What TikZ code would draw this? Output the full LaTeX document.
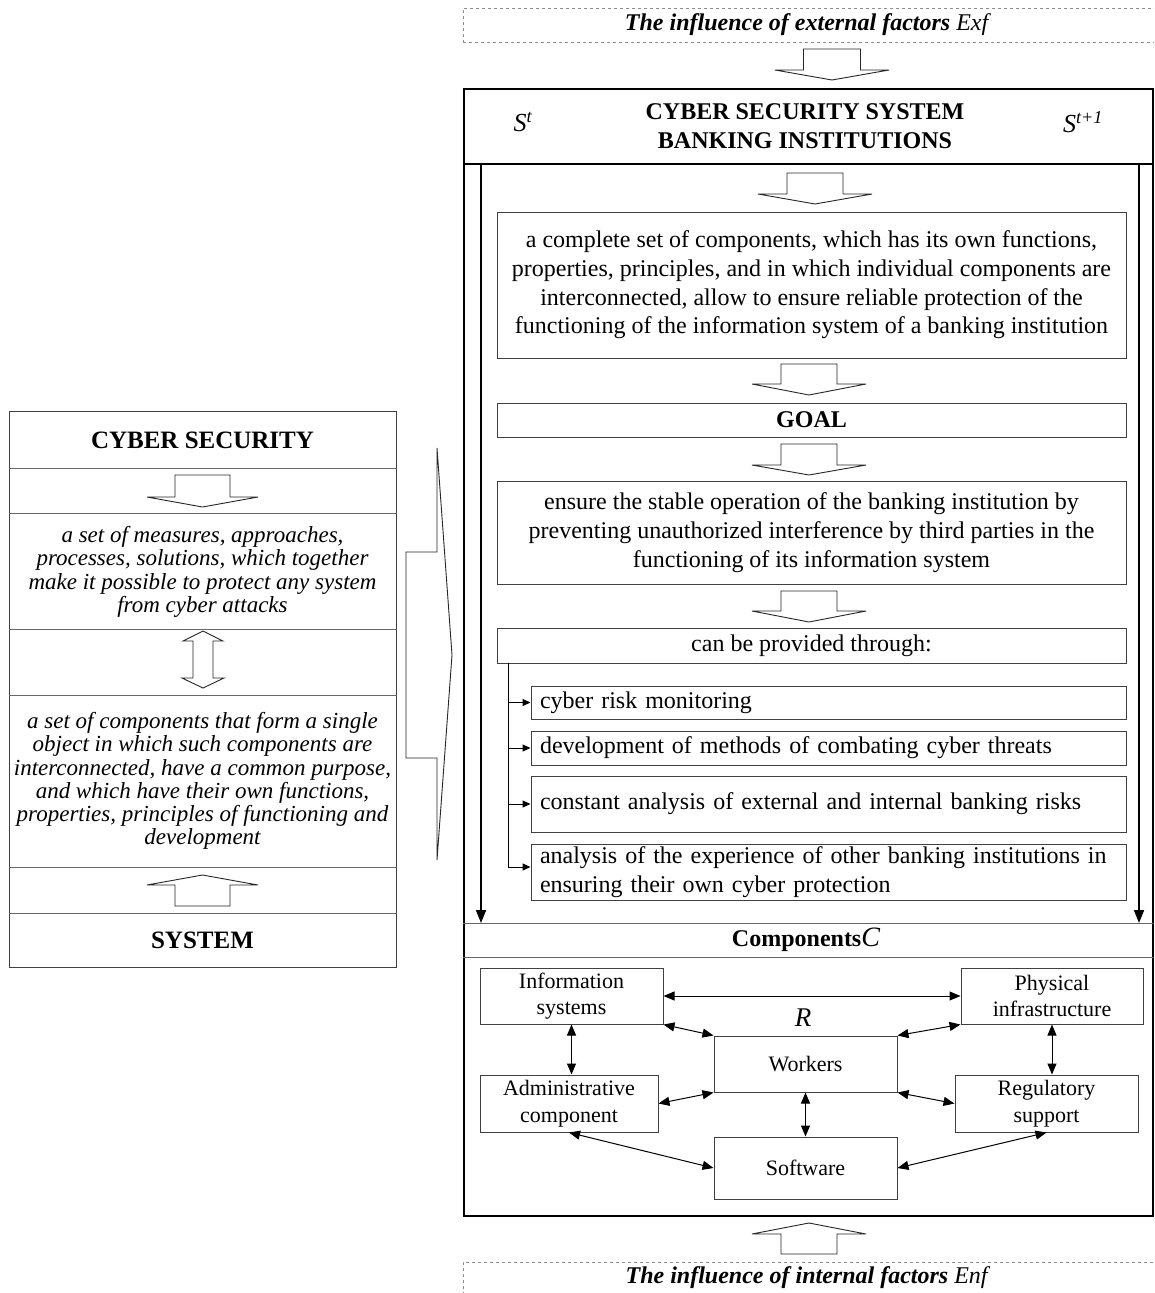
\documentclass[tikz,border=0pt]{standalone}
\usepackage{fontspec}
\setmainfont{Liberation Serif}
\usetikzlibrary{arrows.meta}
\newcommand{\rfont}{\fontsize{24}{28.7}\selectfont}
\newcommand{\lfont}{\fontsize{23}{23.3}\selectfont\itshape}
\newcommand{\cfont}{\fontsize{22}{26.7}\selectfont}
\newcommand{\blockarr}[6]{% cx, shaft end y, wing y, tip y, shaft half, wing half
  \draw[barrow] ({#1-#5},#2) -- ({#1+#5},#2) -- ({#1+#5},#3) -- ({#1+#6},#3) -- (#1,#4) -- ({#1-#6},#3) -- ({#1-#5},#3) -- cycle;}
\tikzset{
  barrow/.style={draw=black!85, line width=0.9pt, fill=white, line join=miter},
  rbox/.style={draw=black!75, line width=1pt, inner sep=0pt, align=center, font=\rfont},
  lbox/.style={draw=black!75, line width=1pt, inner xsep=9pt, inner ysep=0pt, align=left, font=\rfont, text width=577pt},
  cbox/.style={draw=black!75, line width=1pt, inner sep=0pt, align=center, font=\cfont},
  dashbox/.style={draw=black!45, dashed, line width=0.7pt},
  bigarrow/.style={line width=1.8pt, -{Triangle[length=13pt,width=10pt]}},
  tarrow/.style={line width=1pt, -{Triangle[length=8pt,width=7pt]}},
  darrow/.style={line width=1pt, {Triangle[length=11pt,width=9pt]}-{Triangle[length=11pt,width=9pt]}},
  sepline/.style={draw=black!60, line width=1pt},
  plain/.style={inner sep=0pt, align=center}
}
\begin{document}
\begin{tikzpicture}[x=1pt,y=-1pt]
\useasboundingbox (0,0) rectangle (1154,1293);
\clip (0,0) rectangle (1154,1293);
\fill[white] (0,0) rectangle (1154,1293);

% ---------- external / internal factors ----------
\node[dashbox, minimum width=720pt, minimum height=34pt, anchor=north west] (ext) at (463,8) {};
\node[plain, font=\fontsize{24}{28}\selectfont] (exttxt) at (808,25) {\textbf{\textit{The influence of external factors}} \textit{Exf}};
\node[dashbox, minimum width=720pt, minimum height=60pt, anchor=north west] (int) at (463,1262) {};
\node[plain, font=\fontsize{24}{28}\selectfont] (inttxt) at (808,1278) {\textbf{\textit{The influence of internal factors}} \textit{Enf}};

% ---------- main box ----------
\node[draw=black, line width=2pt, minimum width=689pt, minimum height=1127pt, anchor=north west, inner sep=0pt] (main) at (463,88) {};
\draw[line width=2pt] (main.west |- 0,164) coordinate (hl) -- (main.east |- 0,164) coordinate (hr);
\node[plain, font=\fontsize{24}{29}\selectfont\bfseries] (title) at (805,126) {CYBER SECURITY SYSTEM\\BANKING INSTITUTIONS};
\node[plain, font=\fontsize{26}{28}\selectfont\itshape] (st) at (523,122) {S\textsuperscript{t}};
\node[plain, font=\fontsize{26}{28}\selectfont\itshape] (st1) at (1083,122) {S\textsuperscript{t+1}};

\blockarr{832}{49}{70}{80}{28.5}{57}
\blockarr{815}{173}{194}{204}{28}{57}

\node[rbox, minimum width=629pt, minimum height=146pt] (def) at (811.5,285) {a complete set of components, which has its own functions,\\properties, principles, and in which individual components are\\interconnected, allow to ensure reliable protection of the\\functioning of the information system of a banking institution};
\blockarr{809}{364}{384}{395}{28}{57}
\node[rbox, minimum width=629pt, minimum height=34pt, font=\rfont\bfseries] (goal) at (811.5,420) {GOAL};
\blockarr{809}{444}{465}{475}{28}{57}
\node[rbox, minimum width=629pt, minimum height=103pt] (ens) at (811.5,532.5) {ensure the stable operation of the banking institution by\\preventing unauthorized interference by third parties in the\\functioning of its information system};
\blockarr{809}{591}{611}{622}{28}{57}
\node[rbox, minimum width=629pt, minimum height=35pt] (can) at (811.5,645.5) {can be provided through:};

\node[lbox, minimum height=33pt] (l1) at (828.5,702.5) {cyber risk monitoring};
\node[lbox, minimum height=34pt] (l2) at (828.5,748) {development of methods of combating cyber threats};
\node[lbox, minimum height=56pt] (l3) at (828.5,804) {constant analysis of external and internal banking risks};
\node[lbox, minimum height=56pt] (l4) at (828.5,872) {analysis of the experience of other banking institutions in\\ensuring their own cyber protection};

\coordinate (tr0) at (508,663);
\coordinate (tr1) at (508,867);
\draw[line width=1pt] (tr0) -- (tr1);
\draw[tarrow] (tr0 |- l1.west) -- (l1.west);
\draw[tarrow] (tr0 |- l2.west) -- (l2.west);
\draw[tarrow] (tr0 |- l3.west) -- (l3.west);
\draw[tarrow] (tr1) -- (l4.west |- tr1);

% side arrows
\coordinate (la0) at (481,165);
\coordinate (la1) at (481,923);
\coordinate (ra0) at (1139,165);
\coordinate (ra1) at (1139,923);
\draw[bigarrow] (la0) -- (la1);
\draw[bigarrow] (ra0) -- (ra1);

% components section
\draw[sepline] (main.west |- 0,923) -- (main.east |- 0,923);
\draw[sepline] (main.west |- 0,957) -- (main.east |- 0,957);
\node[plain] (comp) at (806,940) {\fontsize{24}{28}\selectfont\bfseries Components\fontsize{28}{30}\selectfont\mdseries\itshape C};

\node[cbox, minimum width=183pt, minimum height=56pt] (is) at (571.5,996) {Information\\systems};
\node[cbox, minimum width=182pt, minimum height=56pt] (pi) at (1052,996) {Physical\\infrastructure};
\node[cbox, minimum width=183pt, minimum height=56pt] (wk) at (805.5,1064) {Workers};
\node[cbox, minimum width=178pt, minimum height=57pt] (adm) at (569,1103.5) {Administrative\\component};
\node[cbox, minimum width=183pt, minimum height=57pt] (reg) at (1046.5,1103.5) {Regulatory\\support};
\node[cbox, minimum width=183pt, minimum height=62pt] (sw) at (805.5,1168) {Software};
\node[plain, font=\fontsize{27}{28}\selectfont\itshape] (rl) at (803,1018) {R};

\draw[darrow] (is.east) -- (pi.west);
\draw[darrow] (is.south east) -- (wk.north west);
\draw[darrow] (pi.south west) -- (wk.north east);
\draw[darrow] (is.south) -- (is.south |- adm.north);
\draw[darrow] (pi.south) -- (pi.south |- reg.north);
\draw[darrow] (adm.east) -- (wk.south west);
\draw[darrow] (wk.south east) -- (reg.west);
\draw[darrow] (wk.south) -- (sw.north);
\draw[darrow] (adm.south) -- (sw.west);
\draw[darrow] (reg.south) -- (sw.east);

\blockarr{809}{1254}{1234}{1223}{28}{57}

% ---------- left panel ----------
\node[draw=black!75, line width=1pt, minimum width=387pt, minimum height=556pt, anchor=north west, inner sep=0pt] (lp) at (9,411) {};
\foreach \yy in {468,513,629,695,867,913}{\draw[sepline] (lp.west |- 0,\yy) -- (lp.east |- 0,\yy);}
\node[plain, font=\fontsize{25}{28}\selectfont\bfseries] (cs) at (202.5,440) {CYBER SECURITY};
\blockarr{202.5}{475}{497}{507}{27.5}{55.5}
\node[plain, font=\lfont] (csd) at (202.5,572) {a set of measures, approaches,\\processes, solutions, which together\\make it possible to protect any system\\from cyber attacks};
\draw[barrow] (203,631) -- (223,641) -- (213,641) -- (213,678) -- (224,678) -- (203,688) -- (182,678) -- (193,678) -- (193,641) -- (183,641) -- cycle;
\node[plain, font=\lfont] (sysd) at (202.5,781) {a set of components that form a single\\object in which such components are\\interconnected, have a common purpose,\\and which have their own functions,\\properties, principles of functioning and\\development};
\blockarr{202.5}{906}{885}{875}{27.5}{55.5}
\node[plain, font=\fontsize{25}{28}\selectfont\bfseries] (sys) at (202.5,940) {SYSTEM};

% big right-pointing arrow
\draw[barrow] (406,552) -- (437,552) -- (437,448) -- (452,655) -- (437,860) -- (437,758) -- (406,758) -- cycle;
\end{tikzpicture}
\end{document}
